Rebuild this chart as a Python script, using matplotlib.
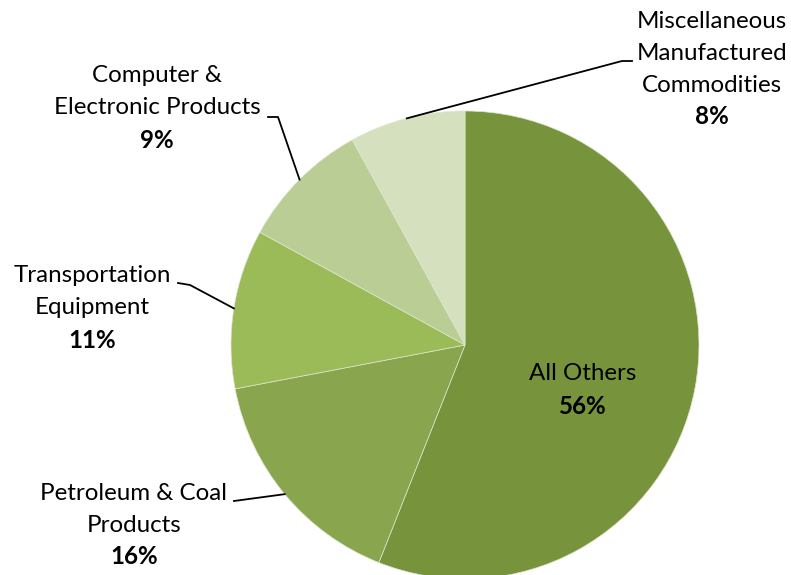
import matplotlib
matplotlib.use('Agg')
import matplotlib.pyplot as plt
import numpy as np

plt.rcParams['font.family'] = ['Lato', 'DejaVu Sans']

categories = ['All Others', 'Petroleum & Coal\nProducts', 'Transportation\nEquipment',
              'Computer &\nElectronic Products', 'Miscellaneous\nManufactured\nCommodities']
shares = [56, 16, 11, 9, 8]
colors = ['#77933C', '#89A54E', '#9BBB59', '#BACD95', '#D5E1BE']

# label layout in pixel coords (x centre, y of first line from top), elbow of leader line
label_xy = [(583, 374), (134, 493), (92, 276), (157, 76), (712, 21)]
elbows = [None, [(234, 501)], [(190, 285), (178, 283)], [(278, 117), (268, 117)], [(622, 61), (632, 61)]]
line_h = 32

W, H = 791, 575
fig = plt.figure(figsize=(W / 100, H / 100), dpi=100)
ax = fig.add_axes([0, 0, 1, 1])
cx, cy, r = 465, H - 345, 234

wedges, _ = ax.pie(shares, colors=colors, startangle=90, counterclock=False,
                   center=(cx, cy), radius=r,
                   wedgeprops=dict(edgecolor='#DDE6CC', linewidth=0.5))
ax.set_xlim(0, W)
ax.set_ylim(0, H)
ax.set_aspect('equal')
ax.axis('off')

for i, (name, val) in enumerate(zip(categories, shares)):
    x, y0 = label_xy[i]
    lines = name.split('\n')
    for j, ln in enumerate(lines):
        ax.text(x, H - (y0 + j * line_h), ln, ha='center', va='center', fontsize=17.4, color='black')
    ax.text(x, H - (y0 + len(lines) * line_h), f'{val}%', ha='center', va='center',
            fontsize=17.4, fontweight='bold', color='black')
    if elbows[i] is not None:
        w = wedges[i]
        mid = np.deg2rad((w.theta1 + w.theta2) / 2)
        px, py = cx + r * np.cos(mid), cy + r * np.sin(mid)
        xs = [px] + [e[0] for e in elbows[i]]
        ys = [py] + [H - e[1] for e in elbows[i]]
        ax.plot(xs, ys, color='black', linewidth=1.3, clip_on=False)

fig.savefig('out.png', dpi=100)
